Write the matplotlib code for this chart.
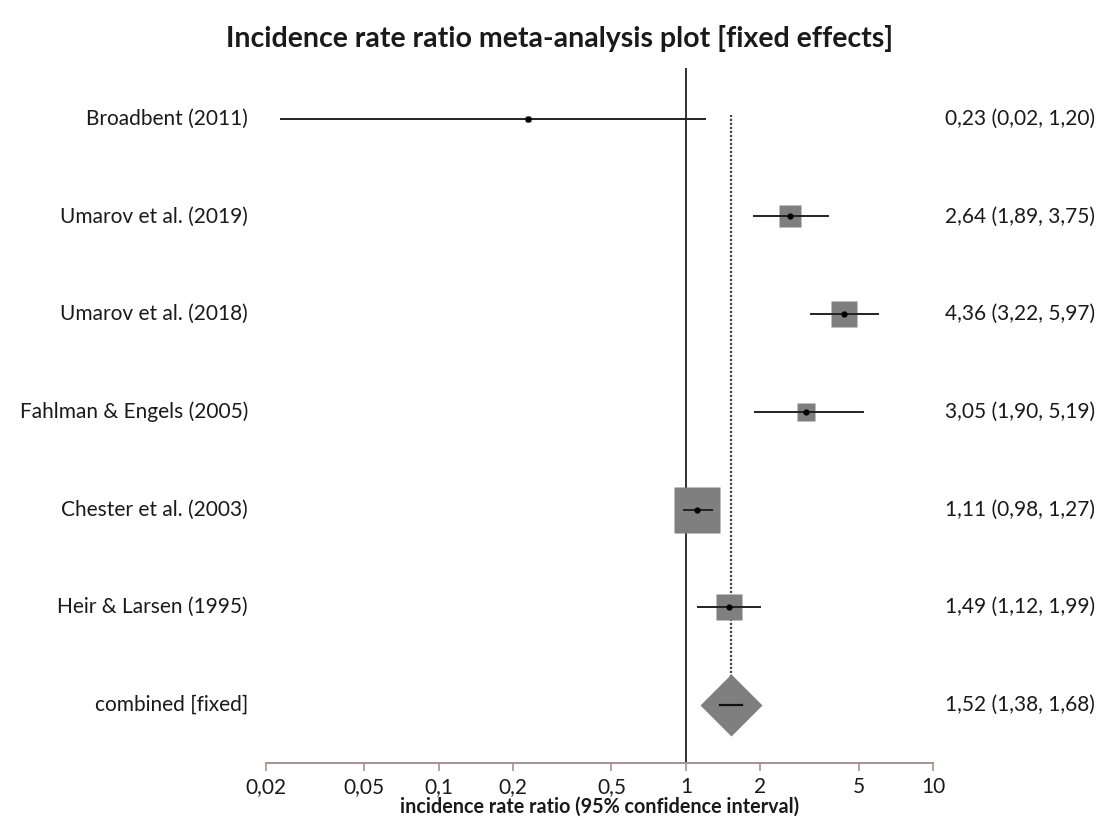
import numpy as np
import matplotlib
matplotlib.use('Agg')
import matplotlib.pyplot as plt
from matplotlib.ticker import FixedLocator, FixedFormatter

plt.rcParams['font.family'] = ['Lato', 'DejaVu Sans']

# study data (incidence rate ratios with 95% CI)
studies = ['Broadbent (2011)', 'Umarov et al. (2019)', 'Umarov et al. (2018)',
           'Fahlman & Engels (2005)', 'Chester et al. (2003)', 'Heir & Larsen (1995)']
irr = [0.23, 2.64, 4.36, 3.05, 1.11, 1.49]
lower = [0.023, 1.89, 3.22, 1.90, 0.98, 1.12]
upper = [1.20, 3.75, 5.97, 5.19, 1.27, 1.99]
weights = [0.8, 11.8, 16.2, 8.0, 47.0, 16.2]  # % weight

combined_label = 'combined [fixed]'
combined = 1.52
combined_lo = 1.38
combined_hi = 1.68

ticks = [0.02, 0.05, 0.1, 0.2, 0.5, 1, 2, 5, 10]
tick_labels = ['0,02', '0,05', '0,1', '0,2', '0,5', '1', '2', '5', '10']


def fmt(v):
    return f'{v:.2f}'.replace('.', ',')


fig = plt.figure(figsize=(11.08, 8.21), dpi=100)
ax = fig.add_axes([266 / 1108, 1 - 763 / 821, (933 - 266) / 1108, (763 - 68) / 821])

n = len(studies)
ypos = np.arange(n, 0, -1) + 1  # top row first, combined at 1
gray = '#7f7f7f'
txt = '#1a1a1a'
fs = 15

# reference line at 1 and dotted line at the pooled estimate
ax.axvline(1, color='#222222', lw=1.3, zorder=1)
ax.plot([combined, combined], [1, ypos[0] + 0.04], color='#444444', lw=1.6,
        ls=(0, (1, 0.8)), zorder=1)

for i in range(n):
    y = ypos[i]
    ax.plot([lower[i], upper[i]], [y, y], color='#222222', lw=1.4, zorder=3)
    ax.plot(irr[i], y, marker='s', ms=4.8 * np.sqrt(weights[i]), color=gray,
            mec='none', zorder=2)
    ax.plot(irr[i], y, marker='o', ms=4.5, color='black', mec='none', zorder=4)
    ax.text(-0.027, y, studies[i], transform=ax.get_yaxis_transform(),
            ha='right', va='center', fontsize=fs, color=txt)
    ax.text(1.018, y, f'{fmt(irr[i])} ({fmt(lower[i])}, {fmt(upper[i])})',
            transform=ax.get_yaxis_transform(), ha='left', va='center',
            fontsize=fs, color=txt)

# pooled estimate
ax.plot(combined, 1, marker='D', ms=31.6, color=gray, mec='none', zorder=2)
ax.plot([combined_lo, combined_hi], [1, 1], color='#111111', lw=1.6, zorder=3)
ax.text(-0.027, 1, combined_label, transform=ax.get_yaxis_transform(),
        ha='right', va='center', fontsize=fs, color=txt)
ax.text(1.018, 1, f'{fmt(combined)} ({fmt(combined_lo)}, {fmt(combined_hi)})',
        transform=ax.get_yaxis_transform(), ha='left', va='center',
        fontsize=fs, color=txt)

ax.set_xscale('log')
ax.set_xlim(0.02, 10)
ax.set_ylim(0.406, 7.52)
ax.xaxis.set_major_locator(FixedLocator(ticks))
ax.xaxis.set_major_formatter(FixedFormatter(tick_labels))
ax.xaxis.set_minor_locator(FixedLocator([]))
ax.set_yticks([])
for s in ['top', 'right', 'left']:
    ax.spines[s].set_visible(False)
ax.spines['bottom'].set_color('#a8928e')
ax.spines['bottom'].set_linewidth(1.4)
ax.tick_params(axis='x', colors='#a8928e', length=6, width=1.2, pad=4,
               labelsize=15, labelcolor=txt)
ax.set_xlabel('incidence rate ratio (95% confidence interval)', fontsize=14.2,
              fontweight='bold', color=txt, labelpad=0)

fig.text(0.505, 0.953, 'Incidence rate ratio meta-analysis plot [fixed effects]',
         ha='center', va='center', fontsize=20.5, fontweight='bold', color=txt)

fig.savefig('out.png', dpi=100)
